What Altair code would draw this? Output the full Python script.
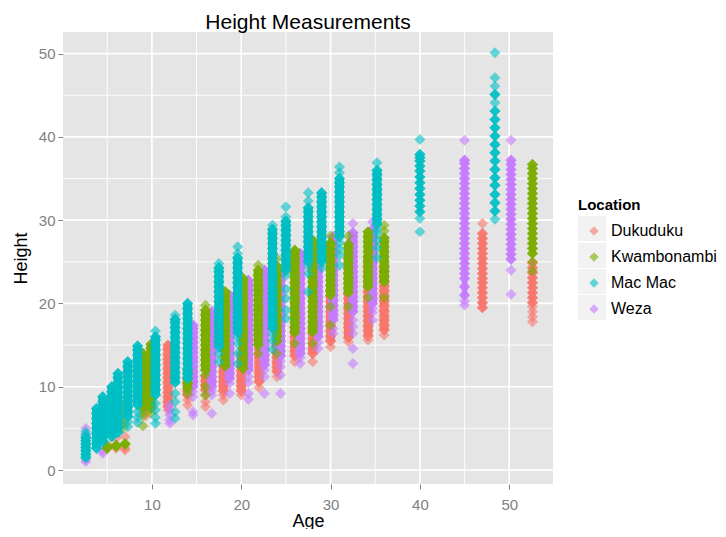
import altair as alt
import pandas as pd

locations = ["Dukuduku", "Kwambonambi", "Mac Mac", "Weza"]
colors = ["#F8766D", "#7CAE00", "#00BFC4", "#C77CFF"]
major_x = [10, 20, 30, 40, 50]
minor_x = [5, 15, 25, 35, 45]
major_y = [0, 10, 20, 30, 40, 50]
minor_y = [5, 15, 25, 35, 45]

# age: (single measurements, heavily repeated measurements)
dukuduku = {
    5.0: ([2.6, 3.0], []),
    6.0: ([2.6, 3.0, 3.8], []),
    7.0: ([2.4, 2.6, 4.0], []),
    9.3: ([6.5, 7.0, 7.5, 8.0], []),
    11.8: ([7.2], [7.6, 8.2, 8.8, 9.3, 9.9, 10.5, 11.1, 11.6, 12.2, 12.8, 13.3, 13.9, 14.5, 15.0]),
    14.0: ([7.8, 8.4], [9.0, 9.5, 10.1, 10.6, 11.1]),
    16.0: ([7.6, 8.2, 9.0], [9.6, 10.2, 10.7, 11.3]),
    18.0: ([8.4, 9.0], [9.5, 10.1, 10.6, 11.2, 11.8, 12.5]),
    20.0: ([9.0], [9.5, 10.1, 10.7, 11.3, 11.9, 12.4, 13.0, 13.6, 14.0]),
    22.0: ([9.9], [10.6, 11.2, 11.7, 12.3, 12.9, 13.5, 14.0, 14.6]),
    24.0: ([11.2], [11.8, 12.4, 12.9, 13.5, 14.1, 14.7, 15.2]),
    26.0: ([13.0], [13.7, 14.3, 14.8, 15.4, 16.0, 16.6, 17.2]),
    28.0: ([13.0], [14.0, 14.6, 15.2, 15.8, 16.4, 17.0]),
    30.0: ([14.8], [15.5, 16.1, 16.7, 17.3, 17.8, 18.4, 19.0, 19.6, 20.2, 20.8, 21.4]),
    32.0: ([15.4], [15.9, 16.5, 17.1, 17.6, 18.2, 18.8, 19.4, 20.0, 20.6, 21.1, 21.7, 22.3, 22.9, 23.5, 24.1, 24.7, 25.3]),
    34.2: ([15.6], [16.1, 16.7, 17.3, 17.9, 18.5, 19.0, 19.6, 20.2, 20.8, 21.4, 22.0, 22.6, 23.2, 23.8, 24.4, 25.0, 25.6]),
    36.0: ([16.2], [16.8, 17.4, 18.0, 18.5, 19.1, 19.7, 20.3, 20.9, 21.5, 22.1, 22.7, 23.3, 23.9, 24.5]),
    47.0: ([29.6], [19.5, 20.1, 20.7, 21.3, 21.9, 22.5, 23.0, 23.6, 24.2, 24.8, 25.4, 26.0, 26.6, 27.2, 27.8, 28.4]),
    52.6: ([17.8, 18.4, 19.0, 19.6], [20.1, 20.7, 21.3, 21.9, 22.5, 23.1, 23.7, 24.3, 24.9]),
}
weza = {
    2.6: ([1.0, 1.3, 4.3, 5.0], []),
    4.5: ([2.0, 2.3], []),
    12.0: ([5.6, 6.0, 6.6, 7.2, 7.8], []),
    14.6: ([6.6, 7.0, 8.8, 9.4], [10.0, 10.6, 11.2, 11.8, 12.4, 13.0, 13.5, 14.1, 14.7, 15.3, 15.9, 16.5, 17.0, 17.4]),
    16.7: ([6.8, 9.0, 9.5], [10.0, 10.6, 11.2, 11.8, 12.4, 13.0, 13.6, 14.2, 14.8, 15.4, 16.0, 16.6, 17.2, 17.8, 18.4, 19.0]),
    18.7: ([9.2, 10.4], [11.0, 11.6, 12.2, 12.8, 13.4, 14.0, 14.6, 15.2, 15.8, 16.4, 17.0, 17.6, 18.2, 18.8, 19.4, 20.0, 20.6, 21.0]),
    20.8: ([8.5, 9.2, 10.5, 11.2], [12.0, 12.6, 13.2, 13.8, 14.4, 15.0, 15.6, 16.2, 16.8, 17.4, 18.0, 18.6, 19.2, 19.8, 20.4, 21.0, 21.6, 22.2, 22.8]),
    22.6: ([9.2, 11.2, 12.0], [12.6, 13.2, 13.8, 14.4, 15.0, 15.6, 16.2, 16.8, 17.4, 18.0, 18.6, 19.2, 19.8, 20.4, 21.0, 21.6, 22.2, 22.8, 23.4, 24.0]),
    24.4: ([9.2, 11.4, 12.4, 13.1], [13.7, 14.3, 14.9, 15.5, 16.1, 16.7, 17.3, 17.9, 18.5, 19.1, 19.7, 20.3, 20.9, 21.5, 22.1, 22.7, 23.3, 24.0]),
    26.6: ([12.8, 13.5], [14.0, 14.6, 15.2, 15.8, 16.4, 17.0, 17.6, 18.2, 18.8, 19.4, 20.0, 20.6, 21.2, 21.8, 22.4, 23.0, 23.6, 24.2, 24.8, 25.4, 26.0]),
    28.6: ([14.6, 15.3], [16.0, 16.6, 17.2, 17.8, 18.4, 19.0, 19.6, 20.2, 20.8, 21.4, 22.0, 22.6, 23.2, 23.8, 24.4, 25.0, 25.6, 26.2, 26.6]),
    30.3: ([16.4, 17.0], [18.0, 18.6, 19.2, 19.8, 20.4, 21.0, 21.6, 22.2, 22.8, 23.4, 24.0, 24.6, 25.2, 25.8, 26.4, 27.0, 27.6, 28.0]),
    32.5: ([12.8, 14.6, 16.4, 17.2, 18.0, 29.6], [19.0, 19.6, 20.2, 20.8, 21.4, 22.0, 22.6, 23.2, 23.8, 24.4, 25.0, 25.6, 26.2, 26.8, 27.4, 28.0, 28.5]),
    34.7: ([18.0, 18.9, 19.4, 29.8], [20.0, 20.6, 21.2, 21.8, 22.4, 23.0, 23.6, 24.2, 24.8, 25.4, 26.0, 26.6, 27.2, 27.8, 28.4, 28.9]),
    45.0: ([39.6, 19.8, 20.3], [21.0, 22.0, 23.0, 23.6, 24.2, 24.8, 25.4, 26.0, 26.6, 27.2, 27.8, 28.4, 29.0, 29.6, 30.2, 30.8, 31.4, 32.0, 32.6, 33.2, 33.8, 34.4, 35.0, 35.6, 36.2, 36.8, 37.2]),
    50.2: ([39.6, 24.0, 21.1], [25.3, 25.9, 26.5, 27.1, 27.7, 28.3, 28.9, 29.5, 30.1, 30.7, 31.3, 31.9, 32.5, 33.1, 33.7, 34.3, 34.9, 35.5, 36.1, 36.7, 37.2]),
}
kwambonambi = {
    5.0: ([2.8, 3.0], [2.6]),
    6.0: ([2.8, 3.0], [2.9]),
    7.0: ([3.2], [3.1]),
    6.8: ([5.1, 5.6, 6.2, 6.8, 7.4, 8.0], []),
    9.0: ([5.3, 6.5, 7.0], [7.5, 8.1, 8.7, 9.3, 9.9, 10.5, 11.1, 11.7, 12.3, 12.9, 13.5, 14.0]),
    9.9: ([6.9], [7.4, 8.0, 8.6, 9.2, 9.8, 10.4, 11.0, 11.6, 12.2, 12.8, 13.4, 14.0, 14.6, 15.1]),
    14.0: ([9.2], [9.8, 10.4, 11.0, 11.6, 12.0]),
    16.0: ([9.0, 10.0, 11.4, 19.8], [12.0, 12.6, 13.2, 13.8, 14.4, 15.0, 15.6, 16.2, 16.8, 17.4, 18.0, 18.6, 19.2]),
    18.2: ([], [12.5, 13.1, 13.7, 14.3, 14.9, 15.5, 16.1, 16.7, 17.3, 17.9, 18.5, 19.1, 19.7, 20.3, 20.9, 21.4]),
    20.2: ([], [12.2, 12.8, 13.4, 14.0, 14.6, 15.2, 15.8, 16.4, 17.0, 17.6, 18.2, 18.8, 19.4, 20.0, 20.6, 21.2, 21.8, 22.4, 23.0]),
    21.9: ([14.0, 24.6], [15.0, 15.6, 16.2, 16.8, 17.4, 18.0, 18.6, 19.2, 19.8, 20.4, 21.0, 21.6, 22.2, 22.8, 23.4, 24.0]),
    24.0: ([14.0, 25.4], [15.5, 16.1, 16.7, 17.3, 17.9, 18.5, 19.1, 19.7, 20.3, 20.9, 21.5, 22.1, 22.7, 23.3, 23.9, 24.5]),
    26.0: ([15.2], [16.5, 17.1, 17.7, 18.3, 18.9, 19.5, 20.1, 20.7, 21.3, 21.9, 22.5, 23.1, 23.7, 24.3, 24.9, 25.5, 26.1, 26.4]),
    28.0: ([15.2], [16.6, 17.2, 17.8, 18.4, 19.0, 19.6, 20.2, 20.8, 21.4, 22.0, 22.6, 23.2, 23.8, 24.4, 25.0, 25.6, 26.2, 26.8, 27.3, 27.6]),
    30.0: ([17.4, 19.6, 28.1], [21.0, 21.6, 22.2, 22.8, 23.4, 24.0, 24.6, 25.2, 25.8, 26.4, 27.0, 27.3]),
    32.0: ([19.6, 28.1], [21.3, 21.9, 22.5, 23.1, 23.7, 24.3, 24.9, 25.5, 26.1, 26.7, 27.1]),
    34.2: ([20.7], [22.0, 22.6, 23.2, 23.8, 24.4, 25.0, 25.6, 26.2, 26.8, 27.4, 28.0, 28.6]),
    36.0: ([20.7, 28.7, 29.4], [22.6, 23.2, 23.8, 24.4, 25.0, 25.6, 26.2, 26.8, 27.4, 27.9]),
    52.6: ([23.9, 25.0], [26.0, 26.6, 27.2, 27.8, 28.4, 29.0, 29.6, 30.2, 30.8, 31.4, 32.0, 32.6, 33.2, 33.8, 34.4, 35.0, 35.6, 36.2, 36.7]),
}
mac_mac = {
    2.6: ([4.2, 4.6], [1.5, 1.9, 2.3, 2.7, 3.1, 3.5, 3.9]),
    3.8: ([], [2.6, 3.2, 3.8, 4.4, 5.0, 5.6, 6.2, 6.8, 7.4]),
    4.5: ([], [3.4, 4.0, 4.6, 5.2, 5.8, 6.4, 7.0, 7.6, 8.2, 8.8]),
    5.5: ([], [4.0, 4.6, 5.2, 5.8, 6.4, 7.0, 7.6, 8.2, 8.8, 9.4, 10.0]),
    6.2: ([], [4.5, 5.1, 5.7, 6.3, 6.9, 7.5, 8.1, 8.7, 9.3, 9.9, 10.5, 11.1, 11.6]),
    7.3: ([5.2, 5.8], [6.4, 7.0, 7.6, 8.2, 8.8, 9.4, 10.0, 10.6, 11.2, 11.8, 12.4, 13.0]),
    8.4: ([5.7, 6.3, 7.0], [7.8, 8.4, 9.0, 9.6, 10.2, 10.8, 11.4, 12.0, 12.6, 13.2, 13.8, 14.4, 14.9]),
    10.4: ([5.6, 6.3, 7.2, 8.0, 16.7], [9.0, 9.6, 10.2, 10.8, 11.4, 12.0, 12.6, 13.2, 13.8, 14.4, 15.0, 15.6, 16.0]),
    12.6: ([6.2, 7.0, 8.2, 9.2, 18.6], [10.5, 11.1, 11.7, 12.3, 12.9, 13.5, 14.1, 14.7, 15.3, 15.9, 16.5, 17.1, 17.7, 18.1]),
    14.0: ([], [11.0, 11.6, 12.2, 12.8, 13.4, 14.0, 14.6, 15.2, 15.8, 16.4, 17.0, 17.6, 18.2, 18.8, 19.4, 20.0]),
    17.5: ([13.0, 14.0, 24.8], [14.8, 15.4, 16.0, 16.6, 17.2, 17.8, 18.4, 19.0, 19.6, 20.2, 20.8, 21.4, 22.0, 22.6, 23.2, 23.8, 24.3]),
    19.6: ([12.8, 14.0, 15.2, 16.0, 26.0, 26.8], [16.5, 17.1, 17.7, 18.3, 18.9, 19.5, 20.1, 20.7, 21.3, 21.9, 22.5, 23.1, 23.7, 24.3, 24.9, 25.5]),
    23.5: ([14.5, 15.5, 16.3, 29.4], [17.0, 17.6, 18.2, 18.8, 19.4, 20.0, 20.6, 21.2, 21.8, 22.4, 23.0, 23.6, 24.2, 24.8, 25.4, 26.0, 26.6, 27.2, 27.8, 28.4, 28.9]),
    25.0: ([18.2, 19.2, 20.6, 21.7, 23.4, 30.4, 31.6], [24.0, 24.6, 25.2, 25.8, 26.4, 27.0, 27.6, 28.2, 28.8, 29.4, 29.9]),
    27.5: ([21.4, 23.6, 24.5, 32.3, 33.3], [25.0, 25.6, 26.2, 26.8, 27.4, 28.0, 28.6, 29.2, 29.8, 30.4, 31.0, 31.5]),
    29.0: ([24.3], [25.0, 25.6, 26.2, 26.8, 27.4, 28.0, 28.6, 29.2, 29.8, 30.4, 31.0, 31.6, 32.2, 32.8, 33.3]),
    31.0: ([24.6, 25.8, 26.5, 27.3, 35.7, 36.4], [28.0, 28.6, 29.2, 29.8, 30.4, 31.0, 31.6, 32.2, 32.8, 33.4, 34.0, 34.5, 35.0]),
    35.2: ([25.5, 26.7, 27.6, 28.4, 28.9, 36.9], [29.5, 30.1, 30.7, 31.3, 31.9, 32.5, 33.1, 33.7, 34.3, 34.9, 35.5, 36.0]),
    40.0: ([28.6, 30.2, 39.7], [31.0, 31.7, 32.4, 33.1, 33.8, 34.5, 35.2, 35.9, 36.5, 37.1, 37.5, 37.9]),
    48.4: ([50.1, 47.1, 46.1, 44.1, 30.1], [45.1, 43.1, 42.1, 41.1, 40.1, 39.1, 38.1, 37.1, 36.1, 35.1, 34.2, 33.1, 32.1, 31.1]),
}
# columns whose measurements stay visibly separate in the picture
open_columns = [("Mac Mac", 48.4)]
# columns with a visibly notched edge, drawn with a narrower core
notched_columns = [("Mac Mac", 40.0), ("Weza", 45.0), ("Weza", 50.2), ("Dukuduku", 47.0),
                   ("Dukuduku", 52.6), ("Kwambonambi", 52.6)]

x_scale = alt.Scale(domain=[0.05, 54.9], nice=False, zero=False)
y_scale = alt.Scale(domain=[-1.68, 52.6], nice=False, zero=False)
font = "Liberation Sans"
grey = "#7f7f7f"


def vrules(vals, w):
    return alt.Chart(pd.DataFrame({"v": vals})).mark_rule(color="white", strokeWidth=w).encode(
        x=alt.X("v:Q", scale=x_scale, title="Age",
                axis=alt.Axis(values=major_x, grid=False, domain=False, tickColor=grey, tickSize=5,
                              labelColor=grey, labelFont=font, labelFontSize=15, labelPadding=8,
                              titleFont=font, titleFontSize=18, titleFontWeight="normal",
                              titleColor="black", titlePadding=0)))


def hrules(vals, w):
    return alt.Chart(pd.DataFrame({"v": vals})).mark_rule(color="white", strokeWidth=w).encode(
        y=alt.Y("v:Q", scale=y_scale, title="Height",
                axis=alt.Axis(values=major_y, grid=False, domain=False, tickColor=grey, tickSize=5,
                              labelColor=grey, labelFont=font, labelFontSize=15, labelPadding=3,
                              titleFont=font, titleFontSize=18, titleFontWeight="normal",
                              titleColor="black", titlePadding=8)))


color_enc = alt.Color(
    "Location:N", scale=alt.Scale(domain=locations, range=colors),
    legend=alt.Legend(orient="none", legendX=515, legendY=166, title="Location",
                      titleFont=font, titleFontSize=15, titleFontWeight="bold",
                      titleColor="black", titlePadding=5,
                      labelFont=font, labelFontSize=16, labelColor="black",
                      symbolType="diamond", symbolSize=90, symbolOpacity=0.6,
                      symbolStrokeWidth=0, symbolOffset=8, labelOffset=9,
                      clipHeight=26, rowPadding=0))

series_layers = []
for name, table in [("Dukuduku", dukuduku), ("Weza", weza), ("Kwambonambi", kwambonambi), ("Mac Mac", mac_mac)]:
    rows, spans = [], []
    for age, (single, repeated) in table.items():
        rows += [{"Age": age, "Height": h, "Location": name} for h in single]
        rows += [{"Age": age, "Height": h, "Location": name} for h in repeated for _ in range(3)]
        if len(repeated) > 3 and (name, age) not in open_columns:
            core = 5.5 if (name, age) in notched_columns else 9
            spans.append({"Age": age, "low": min(repeated), "high": max(repeated), "core": core})
    if spans:
        series_layers.append(
            alt.Chart(pd.DataFrame(spans)).mark_rule(color=colors[locations.index(name)]).encode(
                x=alt.X("Age:Q", scale=x_scale),
                y=alt.Y("low:Q", scale=y_scale),
                y2="high:Q",
                strokeWidth=alt.StrokeWidth("core:Q", scale=None)))
    series_layers.append(
        alt.Chart(pd.DataFrame(rows)).mark_point(filled=True, shape="diamond", size=120, opacity=0.6).encode(
            x=alt.X("Age:Q", scale=x_scale),
            y=alt.Y("Height:Q", scale=y_scale),
            color=color_enc))

key_panels = [
    alt.Chart(pd.DataFrame({"k": [name]})).mark_rect(color="#f2f2f2").encode(
        x=alt.value(515), x2=alt.value(543), y=alt.value(top), y2=alt.value(top + 25))
    for name, top in zip(locations, [184, 211, 237, 263])
]

chart = alt.layer(
    vrules(minor_x, 0.9), hrules(minor_y, 0.9), vrules(major_x, 1.7), hrules(major_y, 1.7),
    *key_panels, *series_layers,
).properties(
    width=490, height=452,
    title=alt.TitleParams("Height Measurements", font=font, fontSize=21, fontWeight="normal",
                          color="black", anchor="middle", offset=-2),
    autosize=alt.AutoSizeParams(type="none"),
    padding={"left": 55, "top": 24, "right": 165, "bottom": 45},
).configure_view(fill="#e5e5e5", stroke=None)

chart.save("out.html", embed_options={"renderer": "svg", "actions": False})
